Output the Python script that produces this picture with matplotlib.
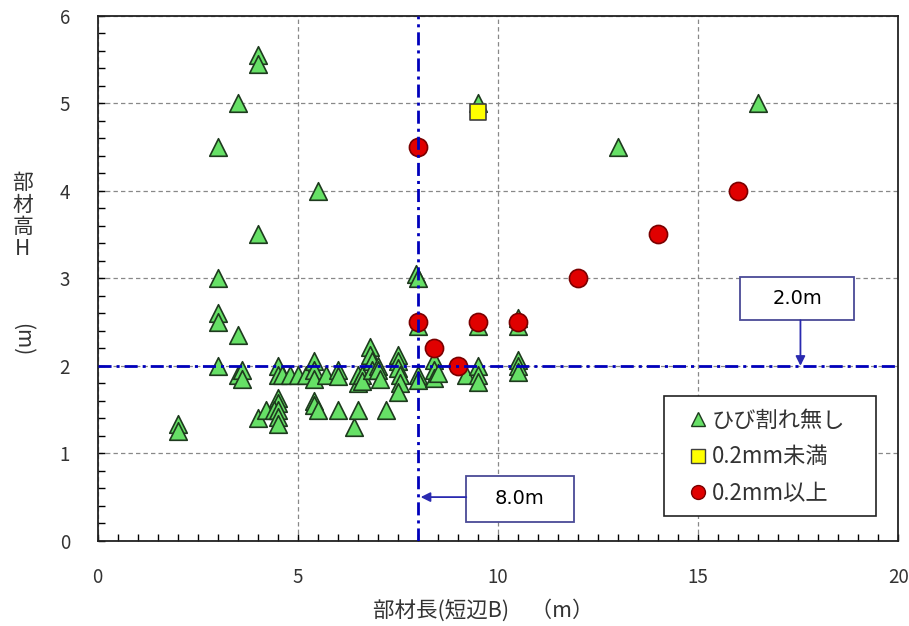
import matplotlib
matplotlib.use('Agg')
import matplotlib.pyplot as plt
from matplotlib.ticker import MultipleLocator
from matplotlib.patches import Rectangle
from matplotlib.lines import Line2D

plt.rcParams['font.family'] = ['Noto Sans CJK JP', 'DejaVu Sans']

# ひび割れ無し (green triangles)
none_x = [2.0, 2.0, 3.0, 3.0, 3.0, 3.0, 3.0, 3.5, 3.5, 3.5, 3.6, 3.6,
          4.0, 4.0, 4.0, 4.0, 4.2, 4.5, 4.5, 4.6, 4.8, 5.0,
          4.5, 4.5, 4.4, 4.5, 4.5, 4.5, 5.5,
          5.2, 5.4, 5.4, 5.4, 5.7, 5.4, 5.4, 5.5,
          6.0, 6.0, 6.0, 6.4, 6.5, 6.5, 6.5, 6.6, 6.6,
          6.8, 6.8, 6.85, 6.85, 7.0, 7.0, 7.05, 7.2,
          7.5, 7.5, 7.5, 7.55, 7.55, 7.5, 7.95, 8.0, 8.0, 8.0, 8.0,
          8.4, 8.4, 8.4, 8.5, 9.2, 9.5, 9.5, 9.5, 9.5, 9.5,
          10.5, 10.5, 10.5, 10.5, 10.5, 13.0, 16.5]
none_y = [1.33, 1.25, 4.5, 3.0, 2.6, 2.5, 2.0, 5.0, 2.35, 1.9, 1.95, 1.85,
          5.55, 5.45, 3.5, 1.4, 1.5, 2.0, 1.9, 1.9, 1.9, 1.9,
          1.63, 1.57, 1.5, 1.5, 1.42, 1.34, 4.0,
          1.9, 2.05, 1.95, 1.85, 1.9, 1.6, 1.55, 1.5,
          1.95, 1.88, 1.5, 1.3, 1.9, 1.8, 1.5, 1.9, 1.83,
          2.22, 2.12, 2.05, 1.95, 2.0, 1.95, 1.85, 1.5,
          2.12, 2.05, 1.98, 1.9, 1.8, 1.7, 3.05, 3.0, 2.45, 1.9, 1.84,
          2.07, 1.95, 1.86, 1.92, 1.9, 5.0, 2.45, 2.0, 1.9, 1.82,
          2.55, 2.45, 2.07, 2.0, 1.93, 4.5, 5.0]

# 0.2mm未満 (yellow squares)
small_x = [9.5]
small_y = [4.9]

# 0.2mm以上 (red circles)
large_x = [8.0, 8.0, 8.4, 9.0, 9.5, 10.5, 12.0, 14.0, 16.0]
large_y = [4.5, 2.5, 2.2, 2.0, 2.5, 2.5, 3.0, 3.5, 4.0]

limit_b = 8.0
limit_h = 2.0

fig = plt.figure(figsize=(9.09, 6.26), dpi=100)
ax = fig.add_axes([0.1075, 0.136, 0.8805, 0.839])

ax.scatter(none_x, none_y, marker='^', s=160, facecolor='#66e066',
           edgecolor='#1e3a1e', linewidth=1.2, zorder=3)
ax.scatter(small_x, small_y, marker='s', s=140, facecolor='#ffff00',
           edgecolor='#404040', linewidth=1.2, zorder=4)
ax.scatter(large_x, large_y, marker='o', s=170, facecolor='#e00000',
           edgecolor='#7a0000', linewidth=1.2, zorder=5)

dd = (0, (4.7, 1.8, 1.1, 1.8))
ax.axvline(limit_b, color='#0000bb', lw=2, linestyle=dd, zorder=6)
ax.axhline(limit_h, color='#0000bb', lw=2, linestyle=dd, zorder=6)

ax.set_xlim(0, 20)
ax.set_ylim(0, 6)
ax.xaxis.set_major_locator(MultipleLocator(5))
ax.xaxis.set_minor_locator(MultipleLocator(0.5))
ax.yaxis.set_major_locator(MultipleLocator(1))
ax.yaxis.set_minor_locator(MultipleLocator(0.2))
ax.tick_params(which='both', direction='in', length=5, width=1,
               top=False, right=False, labelsize=13.5, labelcolor='#333333')
ax.tick_params(axis='x', pad=19)
ax.tick_params(axis='y', pad=20)
ax.grid(True, which='major', color='#888888', lw=0.9, linestyle=(0, (3.5, 2.5)))
ax.set_axisbelow(True)
for sp in ax.spines.values():
    sp.set_linewidth(1.3)
    sp.set_color('#222222')

# annotation boxes
box_c = '#4a4a96'
ax.add_patch(Rectangle((16.05, 2.52), 2.85, 0.5, fill=True, facecolor='white',
                       edgecolor=box_c, lw=1.3, zorder=7))
ax.text(17.48, 2.77, '2.0m', ha='center', va='center', fontsize=14,
        family='DejaVu Sans', zorder=8)
ax.annotate('', xy=(17.56, limit_h), xytext=(17.56, 2.52),
            arrowprops=dict(arrowstyle='-|>', color='#2a2ab0', lw=1.3,
                            mutation_scale=14, shrinkA=0, shrinkB=0), zorder=8)

ax.add_patch(Rectangle((9.21, 0.22), 2.68, 0.52, fill=True, facecolor='white',
                       edgecolor=box_c, lw=1.3, zorder=7))
ax.text(10.55, 0.48, '8.0m', ha='center', va='center', fontsize=14,
        family='DejaVu Sans', zorder=8)
ax.annotate('', xy=(limit_b + 0.07, 0.5), xytext=(9.21, 0.5),
            arrowprops=dict(arrowstyle='-|>', color='#2a2ab0', lw=1.3,
                            mutation_scale=14, shrinkA=0, shrinkB=0), zorder=8)

# legend: own frame, entries without frame
ax.add_patch(Rectangle((0.708, 0.0476), 0.265, 0.229, transform=ax.transAxes,
                       facecolor='white', edgecolor='#222222', lw=1.2, zorder=9))
handles = [
    Line2D([], [], marker='^', ls='', ms=10, mfc='#66e066', mec='#1e3a1e'),
    Line2D([], [], marker='s', ls='', ms=10, mfc='#ffff00', mec='#404040'),
    Line2D([], [], marker='o', ls='', ms=10, mfc='#e00000', mec='#7a0000'),
]
labels = ['ひび割れ無し', '0.2mm未満', '0.2mm以上']
leg = ax.legend(handles, labels, loc='upper left', bbox_to_anchor=(0.730, 0.268),
                fontsize=16, frameon=False, handlelength=0.7, handletextpad=0.25,
                labelspacing=0.62, borderpad=0.38, borderaxespad=0)
leg.set_zorder(10)
for t in leg.get_texts():
    t.set_color('#333333')

fig.text(0.532, 0.025, '部材長(短辺B)\u3000（m）', ha='center', va='center',
         fontsize=15.5, color='#333333')
fig.text(0.025, 0.655, '部\n材\n高\nH', ha='center', va='center',
         fontsize=15, linespacing=1.0, color='#333333')
fig.text(0.025, 0.457, '(m)', ha='center', va='center', rotation=-90,
         fontsize=15, color='#333333')

fig.savefig('out.png', dpi=100)
